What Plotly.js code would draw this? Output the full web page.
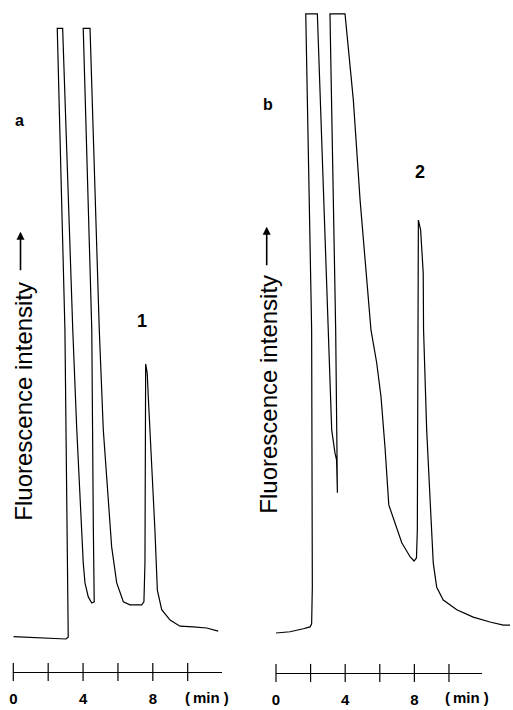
<!DOCTYPE html>
<html>
<head>
<meta charset="utf-8">
<script src="https://cdn.plot.ly/plotly-3.0.1.min.js"></script>
<style>
  html, body { margin: 0; padding: 0; background: #ffffff; }
  #chart { width: 513px; height: 710px; }
</style>
</head>
<body>
<div id="chart"></div>
<script>
// ---- Data (time in min, fluorescence intensity in arbitrary units) ----
// Chromatogram a (the recorder pen traces a slightly slanted path)
const timeA = [0.00, 1.53, 3.02, 3.15, 3.10, 2.96, 2.52, 2.83, 3.41, 3.64, 4.01, 4.11, 4.30, 4.50, 4.64,
               4.59, 4.50, 4.01, 4.40, 4.93, 5.16, 5.64, 5.93, 6.31, 6.69, 7.36, 7.49, 7.55, 7.59, 7.68,
               7.74, 7.94, 8.12, 8.26, 8.51, 8.99, 9.56, 10.32, 11.09, 11.75];
const intensityA = [0.4, 0.2, 0.0, 0.3, 14.9, 50.7, 100.1, 100.1, 50.7, 34.3, 12.5, 9.2, 6.9, 5.9, 6.1,
                    17.9, 50.7, 100.1, 100.1, 50.7, 34.3, 15.1, 9.2, 6.1, 5.6, 5.6, 6.1, 12.5, 45.1, 43.6,
                    39.7, 28.9, 17.9, 8.0, 4.8, 3.1, 2.1, 2.0, 1.8, 1.3];

// Chromatogram b
const timeB = [0.00, 0.81, 1.58, 1.97, 2.06, 2.10, 2.06, 1.72, 2.39, 3.02, 3.22, 3.41, 3.50, 3.55, 3.51,
               3.45, 3.12, 3.99, 4.47, 4.86, 5.49, 5.82, 6.07, 6.30, 6.52, 6.88, 7.27, 7.46, 7.75, 7.98,
               8.12, 8.17, 8.23, 8.23, 8.36, 8.51, 8.53, 8.71, 8.90, 9.09, 9.29, 9.67, 10.45, 11.40, 12.37,
               13.14, 13.53];
const intensityB = [0.0, 0.2, 0.7, 1.0, 1.5, 7.6, 49.7, 101.5, 101.5, 49.7, 33.3, 29.5, 28.4, 23.0, 31.6,
                    49.7, 101.5, 101.5, 87.4, 71.0, 49.7, 44.3, 38.7, 30.5, 21.0, 18.0, 14.8, 13.9, 12.5, 11.8,
                    12.3, 16.9, 49.7, 67.7, 66.1, 59.0, 49.7, 33.3, 22.3, 11.5, 7.5, 5.4, 3.8, 2.6, 1.8,
                    1.3, 1.3];

// Time scale bar
const scaleTicks = [0, 2, 4, 6, 8, 10];
const labelTicks = [0, 4, 8];
const labelText = ['0', '4', '8'];
const unitLabel = '(\u2009min )';
const yLabel = 'Fluorescence intensity';
const panelLabels = ['a', 'b'];
const peakLabels = ['1', '2'];

// ---- Layout helpers ----
const W = 513, H = 710;
const px = v => v / W;
const py = v => 1 - v / H;

const rangeYA = [-5.41, 104.75];
const rangeYB = [-6.56, 103.77];

const black = '#000000';
const traceLine = { color: black, width: 1.2 };
const tickFont = { family: 'Liberation Sans, Arial, sans-serif', size: 15, color: black, weight: 'bold' };

const traces = [
  { x: timeA, y: intensityA, xaxis: 'x', yaxis: 'y', mode: 'lines', line: traceLine,
    hoverinfo: 'skip', showlegend: false },
  { x: scaleTicks, y: scaleTicks.map(() => rangeYA[0]), xaxis: 'x', yaxis: 'y', mode: 'markers',
    marker: { symbol: 'line-ns', size: 13, line: { color: black, width: 1.2 } },
    cliponaxis: false, hoverinfo: 'skip', showlegend: false },
  { x: timeB, y: intensityB, xaxis: 'x2', yaxis: 'y2', mode: 'lines', line: traceLine,
    hoverinfo: 'skip', showlegend: false },
  { x: scaleTicks, y: scaleTicks.map(() => rangeYB[0]), xaxis: 'x3', yaxis: 'y2', mode: 'markers',
    marker: { symbol: 'line-ns', size: 13, line: { color: black, width: 1.2 } },
    cliponaxis: false, hoverinfo: 'skip', showlegend: false }
];

const scaleAxis = (domain, range, anchor) => ({
  domain: domain, range: range, anchor: anchor,
  showline: true, linecolor: black, linewidth: 1.3,
  showgrid: false, zeroline: false, ticks: '',
  tickmode: 'array', tickvals: labelTicks, ticktext: labelText,
  tickfont: tickFont, ticklabelstandoff: 13, fixedrange: true
});

const hiddenY = (domain, range, anchor) => ({
  domain: domain, range: range, anchor: anchor, visible: false, fixedrange: true
});

const annFont = (size, bold) => ({ family: 'Liberation Sans, Arial, sans-serif', size: size, color: black,
                                    weight: bold ? 'bold' : 'normal' });

const label = (text, x, y, font, extra) => Object.assign({
  text: text, x: px(x), y: py(y), xref: 'paper', yref: 'paper', showarrow: false,
  font: font, xanchor: 'center', yanchor: 'middle'
}, extra || {});

const annotations = [
  // y-axis style labels
  label(yLabel, 24, 401.7, annFont(24, false), { textangle: -90 }),
  label(yLabel, 268.5, 394.2, annFont(24, false), { textangle: -90 }),
  // arrows
  { text: '', x: px(20.5), y: py(231.7), xref: 'paper', yref: 'paper', showarrow: true,
    ax: 0, ay: 40, arrowhead: 2, arrowsize: 1, arrowwidth: 1.6, arrowcolor: black, standoff: 0 },
  { text: '', x: px(266.7), y: py(226.7), xref: 'paper', yref: 'paper', showarrow: true,
    ax: 0, ay: 40, arrowhead: 2, arrowsize: 1, arrowwidth: 1.6, arrowcolor: black, standoff: 0 },
  // panel letters
  label(panelLabels[0], 19, 120.5, annFont(16, true)),
  label(panelLabels[1], 268, 104.5, annFont(16, true)),
  // peak numbers
  label(peakLabels[0], 142, 321, annFont(18, true)),
  label(peakLabels[1], 420, 172, annFont(18, true)),
  // unit labels
  label(unitLabel, 207, 697, tickFont),
  label(unitLabel, 467, 697, tickFont)
];

const layout = {
  width: W, height: H,
  margin: { l: 0, r: 0, t: 0, b: 0, pad: 0 },
  paper_bgcolor: '#ffffff', plot_bgcolor: 'rgba(0,0,0,0)',
  showlegend: false,
  xaxis: scaleAxis([px(13.3), px(221.7)], [0, 11.95], 'y'),
  yaxis: hiddenY([(H - 672) / H, 1], rangeYA, 'x'),
  xaxis2: { domain: [px(276), 1], range: [0, 13.70], anchor: 'y2', visible: false, fixedrange: true },
  yaxis2: hiddenY([(H - 673) / H, 1], rangeYB, 'x2'),
  xaxis3: scaleAxis([px(276), px(482)], [0, 11.91], 'y2'),
  annotations: annotations
};

Plotly.newPlot('chart', traces, layout, { staticPlot: true, displayModeBar: false });
</script>
</body>
</html>
